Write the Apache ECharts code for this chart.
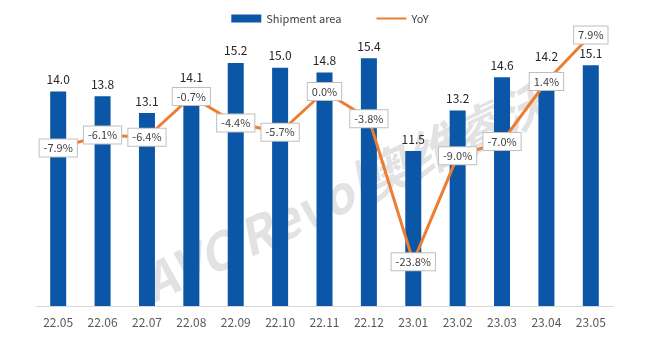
<!DOCTYPE html>
<html>
<head>
<meta charset="utf-8">
<script src="https://cdn.jsdelivr.net/npm/echarts@6/dist/echarts.min.js"></script>
<style>
  html, body { margin: 0; padding: 0; background: #fff; }
  #main { width: 660px; height: 354px; }
</style>
</head>
<body>
<div id="main"></div>
<script>
var months = ['22.05', '22.06', '22.07', '22.08', '22.09', '22.10', '22.11', '22.12', '23.01', '23.02', '23.03', '23.04', '23.05'];
var shipmentArea = [14.0, 13.8, 13.1, 14.1, 15.2, 15.0, 14.8, 15.4, 11.5, 13.2, 14.6, 14.2, 15.1];
var yoy = [-7.9, -6.1, -6.4, -0.7, -4.4, -5.7, 0.0, -3.8, -23.8, -9.0, -7.0, 1.4, 7.9];

var font = '"Noto Sans CJK SC", "DejaVu Sans", sans-serif';
var myChart = echarts.init(document.getElementById('main'));

// 23.04 的柱标签被折线标签挡住，往上挪一点
var barData = shipmentArea.map(function (v, i) {
    if (i === 11) {
        return { value: v, label: { offset: [0, -18] } };
    }
    return v;
});

var option = {
    backgroundColor: '#fff',
    textStyle: { fontFamily: font },
    legend: {
        top: 8,
        left: 'center',
        itemWidth: 30,
        itemHeight: 8,
        itemGap: 34,
        textStyle: { fontSize: 11, color: '#404040', fontFamily: font },
        data: [
            { name: 'Shipment area', icon: 'rect' },
            { name: 'YoY', itemStyle: { opacity: 0 } }
        ]
    },
    grid: { left: 36, right: 47, top: 20, bottom: 48 },
    graphic: [{
        type: 'text',
        x: 345,
        y: 192,
        rotation: 0.44,
        z: 0,
        style: {
            text: 'AVC Revo|奥维睿沃',
            font: 'italic bold 50px "Noto Sans CJK SC", sans-serif',
            fill: 'rgba(150,150,150,0.28)',
            align: 'center',
            verticalAlign: 'middle'
        }
    }],
    xAxis: {
        type: 'category',
        data: months,
        axisTick: { show: false },
        axisLine: { onZero: false, lineStyle: { color: '#d9d9d9', width: 1 } },
        axisLabel: { color: '#595959', fontSize: 12, margin: 10 }
    },
    yAxis: [{
        type: 'value',
        min: 5,
        max: 17,
        show: false,
        splitLine: { show: false }
    }, {
        type: 'value',
        min: -30,
        max: 10,
        show: false,
        splitLine: { show: false }
    }],
    series: [{
        name: 'Shipment area',
        type: 'bar',
        data: barData,
        barWidth: 16,
        itemStyle: { color: '#0B56A6' },
        z: 2,
        label: {
            show: true,
            position: 'top',
            distance: 6,
            color: '#262626',
            fontSize: 12,
            formatter: function (p) { return p.value.toFixed(1); }
        }
    }, {
        name: 'YoY',
        type: 'line',
        yAxisIndex: 1,
        data: yoy,
        symbol: 'circle',
        symbolSize: 0.1,
        showSymbol: true,
        lineStyle: { color: '#ED7D31', width: 3 },
        itemStyle: { color: '#ED7D31' },
        z: 3,
        label: {
            show: true,
            position: 'inside',
            color: '#404040',
            fontSize: 11,
            backgroundColor: '#fff',
            borderColor: '#bfbfbf',
            borderWidth: 1,
            padding: [3, 4],
            formatter: function (p) { return p.value.toFixed(1) + '%'; }
        }
    }]
};

myChart.setOption(option);
</script>
</body>
</html>
